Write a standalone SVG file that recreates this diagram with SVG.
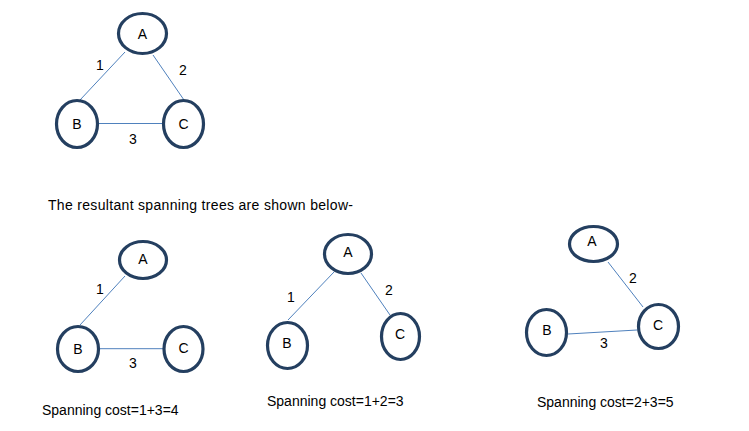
<svg xmlns="http://www.w3.org/2000/svg" width="749" height="431" viewBox="0 0 749 431">
<style>
.n{fill:#fff;stroke:#243F60;stroke-width:3.2}
.e{stroke:#4F81BD;stroke-width:1;fill:none}
text{font-family:"Liberation Sans",Arial,sans-serif;font-size:14px;fill:#000}
.c{text-anchor:middle;dominant-baseline:central}
</style>
<rect width="749" height="431" fill="#fff"/>
<g id="connectors">
<line class="e" x1="125" y1="52" x2="80" y2="100"/>
<line class="e" x1="153" y1="55" x2="184" y2="100"/>
<line class="e" x1="99" y1="123.5" x2="162" y2="123.5"/>
<line class="e" x1="125" y1="276" x2="80" y2="325"/>
<line class="e" x1="100" y1="348.7" x2="163" y2="348.7"/>
<line class="e" x1="334" y1="272" x2="288" y2="320"/>
<line class="e" x1="361" y1="273" x2="390" y2="315"/>
<line class="e" x1="608" y1="262" x2="643" y2="307"/>
<line class="e" x1="568" y1="334" x2="637" y2="330"/>
</g>
<g id="edge-labels">
<text class="c" x="100" y="65">1</text>
<text class="c" x="183" y="70">2</text>
<text class="c" x="133" y="139">3</text>
<text class="c" x="100" y="289">1</text>
<text class="c" x="133" y="363">3</text>
<text class="c" x="291" y="297">1</text>
<text class="c" x="389" y="290">2</text>
<text class="c" x="633" y="278">2</text>
<text class="c" x="604" y="343">3</text>
</g>
<g id="g1-A"><ellipse class="n" cx="142.5" cy="33.5" rx="24" ry="20"/><text class="c" x="142.5" y="33.5">A</text></g>
<g id="g1-B"><ellipse class="n" cx="77" cy="124" rx="20.5" ry="23.5"/><text class="c" x="77" y="124">B</text></g>
<g id="g1-C"><ellipse class="n" cx="183.5" cy="124" rx="20" ry="23.5"/><text class="c" x="183.5" y="124">C</text></g>
<text id="caption" x="48" y="210" textLength="305" lengthAdjust="spacing">The resultant spanning trees are shown below-</text>
<g id="t1-A"><ellipse class="n" cx="143" cy="260" rx="23.5" ry="18.5"/><text class="c" x="143" y="259">A</text></g>
<g id="t1-B"><ellipse class="n" cx="78" cy="349" rx="20.5" ry="22.5"/><text class="c" x="78" y="349">B</text></g>
<g id="t1-C"><ellipse class="n" cx="183.5" cy="349" rx="19.5" ry="22.5"/><text class="c" x="183.5" y="348">C</text></g>
<text id="cost1" x="42" y="415">Spanning cost=1+3=4</text>
<g id="t2-A"><ellipse class="n" cx="348" cy="254" rx="23.5" ry="19.5"/><text class="c" x="348" y="252">A</text></g>
<g id="t2-B"><ellipse class="n" cx="287.5" cy="345.5" rx="20" ry="23"/><text class="c" x="287" y="343">B</text></g>
<g id="t2-C"><ellipse class="n" cx="400.5" cy="336.5" rx="19" ry="23"/><text class="c" x="400" y="334">C</text></g>
<text id="cost2" x="267" y="406">Spanning cost=1+2=3</text>
<g id="t3-A"><ellipse class="n" cx="593.5" cy="244" rx="24" ry="17.5"/><text class="c" x="592" y="241">A</text></g>
<g id="t3-B"><ellipse class="n" cx="546.5" cy="332.5" rx="20" ry="23"/><text class="c" x="547" y="330">B</text></g>
<g id="t3-C"><ellipse class="n" cx="658.5" cy="326.5" rx="20" ry="22"/><text class="c" x="658" y="325">C</text></g>
<text id="cost3" x="537" y="407">Spanning cost=2+3=5</text>
</svg>
